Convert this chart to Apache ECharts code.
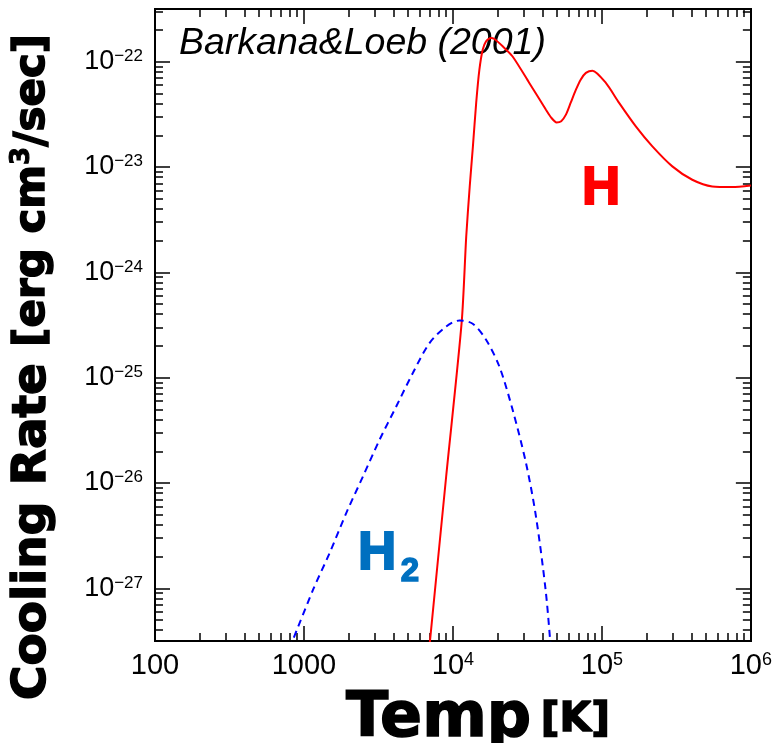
<!DOCTYPE html>
<html><head><meta charset="utf-8">
<script src="https://cdn.jsdelivr.net/npm/echarts@6/dist/echarts.min.js"></script>
<style>html,body{margin:0;padding:0;background:#fff}#c{width:775px;height:743px}</style>
</head><body><div id="c"></div><script>
// ---- data ----
const tempH = [6900, 9003, 11455, 12280, 12960, 13615, 14325, 15053, 15841, 16690, 18030, 18975, 21570, 25160, 32550, 42120, 45710, 49610, 53330, 57350, 61760, 66930, 72030, 78080, 86470, 106300, 130500, 168900, 218200, 297000, 404300, 550500, 749400, 1000000];
const rateH = [2.5e-28, 1.146e-26, 3.40e-25, 2.18e-24, 6.50e-24, 1.56e-23, 4.06e-23, 8.39e-23, 1.30e-22, 1.56e-22, 1.68e-22, 1.64e-22, 1.40e-22, 1.12e-22, 6.28e-23, 3.50e-23, 2.94e-23, 2.65e-23, 2.72e-23, 3.14e-23, 4.08e-23, 5.42e-23, 6.75e-23, 7.82e-23, 8.22e-23, 6.28e-23, 4.06e-23, 2.43e-23, 1.57e-23, 1.014e-23, 7.57e-24, 6.54e-24, 6.46e-24, 6.69e-24];
const tempH2 = [747, 1151, 1488, 1925, 2488, 3217, 4163, 5379, 6960, 9003, 11060, 13575, 16690, 20490, 25160, 30940, 36090, 42120, 46000];
const rateH2 = [2.1e-28, 9.7e-28, 2.17e-27, 5.21e-27, 1.153e-26, 2.57e-26, 5.33e-26, 1.107e-25, 2.13e-25, 3.06e-25, 3.49e-25, 3.25e-25, 2.29e-25, 1.277e-25, 4.95e-26, 1.545e-26, 4.81e-27, 9.0e-28, 2.1e-28];
const xMajorTicks = [100, 1000, 1e4, 1e5, 1e6];
const xTickLabels = ['{b|100}', '{b|1000}', '{b|10}{s|4}', '{b|10}{s|5}', '{b|10}{s|6}'];
const yMajorExp = [-27, -26, -25, -24, -23, -22];
const yTickLabels = ['{b|10}{s|−27}', '{b|10}{s|−26}', '{b|10}{s|−25}', '{b|10}{s|−24}', '{b|10}{s|−23}', '{b|10}{s|−22}'];
const xMin = 100, xMax = 1e6;
const yMinExp = -27.5, yMaxExp = -21.5;   // y axis drawn in log10 units

function minors(lo, hi, kFrom, kTo) {
  const out = [];
  for (let k = kFrom; k <= kTo; k++) for (let m = 2; m <= 9; m++) {
    const v = m * Math.pow(10, k);
    if (v > lo && v < hi) out.push(v);
  }
  return out;
}
const xMinor = minors(xMin, xMax, 2, 5);
const yMinorExp = minors(Math.pow(10, yMinExp), Math.pow(10, yMaxExp), -28, -22).map(v => Math.log10(v));

const axisLine = { show: true, onZero: false, lineStyle: { color: '#000', width: 2 } };
function xAx(pos, major, withLabels) {
  return {
    type: 'log', logBase: 10, min: xMin, max: xMax, position: pos,
    axisLine: axisLine, splitLine: { show: false },
    axisTick: { show: true, inside: true, length: major ? 15 : 8, lineStyle: { color: '#000', width: 1.5 }, customValues: major ? xMajorTicks : xMinor },
    axisLabel: withLabels ? {
      show: true, margin: 10, customValues: xMajorTicks,
      formatter: (v) => xTickLabels[xMajorTicks.findIndex(t => Math.abs(Math.log10(t) - Math.log10(v)) < 1e-6)],
      rich: {
        b: { fontFamily: 'Liberation Sans', fontSize: 29, color: '#000', lineHeight: 30 },
        s: { fontFamily: 'Liberation Sans', fontSize: 18, color: '#000', verticalAlign: 'top', lineHeight: 18 }
      }
    } : { show: false }
  };
}
function yAx(pos, major, withLabels) {
  return {
    type: 'value', min: yMinExp, max: yMaxExp, position: pos,
    axisLine: axisLine, splitLine: { show: false },
    axisTick: { show: true, inside: true, length: major ? 15 : 8, lineStyle: { color: '#000', width: 1.5 }, customValues: major ? yMajorExp : yMinorExp },
    axisLabel: withLabels ? {
      show: true, margin: 12, customValues: yMajorExp,
      formatter: (v) => yTickLabels[yMajorExp.findIndex(t => Math.abs(t - v) < 1e-6)],
      rich: {
        b: { fontFamily: 'Liberation Sans', fontSize: 27, color: '#000', lineHeight: 28 },
        s: { fontFamily: 'Liberation Sans', fontSize: 17, color: '#000', verticalAlign: 'top', lineHeight: 17 }
      }
    } : { show: false }
  };
}

const chart = echarts.init(document.getElementById('c'), null, { renderer: 'canvas' });
chart.setOption({
  animation: false,
  backgroundColor: '#fff',
  grid: { left: 155, right: 23, top: 9, bottom: 102, containLabel: false },
  xAxis: [xAx('bottom', true, true), xAx('bottom', false, false), xAx('top', true, false), xAx('top', false, false)],
  yAxis: [yAx('left', true, true), yAx('left', false, false), yAx('right', true, false), yAx('right', false, false)],
  series: [
    { type: 'line', name: 'H', xAxisIndex: 0, yAxisIndex: 0, showSymbol: false, symbol: 'none', smooth: 0.25, clip: true,
      lineStyle: { color: '#ff0000', width: 2 },
      data: tempH.map((t, i) => [t, Math.log10(rateH[i])]) },
    { type: 'line', name: 'H2', xAxisIndex: 0, yAxisIndex: 0, showSymbol: false, symbol: 'none', smooth: 0.3, clip: true,
      lineStyle: { color: '#0000ff', width: 2, type: [7, 5] },
      data: tempH2.map((t, i) => [t, Math.log10(rateH2[i])]) }
  ],
  graphic: [
    { type: 'text', left: 179, top: 25, style: { text: 'Barkana&Loeb (2001)', fontFamily: 'Liberation Sans', fontStyle: 'italic', fontSize: 37.5, fill: '#000' } },
    { type: 'text', left: 581, top: 162, style: { text: 'H', fontFamily: 'Liberation Sans', fontWeight: 'bold', fontSize: 53, fill: '#ff0000', stroke: '#ff0000', lineWidth: 2 } },
    { type: 'text', left: 357, top: 527, style: { text: 'H', fontFamily: 'Liberation Sans', fontWeight: 'bold', fontSize: 53, fill: '#0070c0', stroke: '#0070c0', lineWidth: 2 } },
    { type: 'text', left: 400, top: 555, style: { text: '2', fontFamily: 'Liberation Sans', fontWeight: 'bold', fontSize: 33, fill: '#0070c0', stroke: '#0070c0', lineWidth: 1.5 } },
    { type: 'text', x: 478, y: 720, style: {
        text: '{a|Temp}{sp| }{b|[K]}', align: 'center', verticalAlign: 'middle',
        rich: {
          a: { fontFamily: 'DejaVu Sans', fontWeight: 'bold', fontSize: 62, fill: '#000', stroke: '#000', lineWidth: 1.5 },
          sp: { fontFamily: 'DejaVu Sans', fontSize: 30 },
          b: { fontFamily: 'DejaVu Sans', fontWeight: 'bold', fontSize: 41, fill: '#000', stroke: '#000', lineWidth: 1.5 }
        } } },
    { type: 'text', x: 33, y: 367, rotation: Math.PI / 2, style: {
        text: '{a|Cooling Rate }{b|[erg cm}{c|3}{b|/sec]}', align: 'center', verticalAlign: 'middle',
        rich: {
          a: { fontFamily: 'DejaVu Sans', fontWeight: 'bold', fontSize: 47, fill: '#000', stroke: '#000', lineWidth: 1.5 },
          b: { fontFamily: 'DejaVu Sans', fontWeight: 'bold', fontSize: 42, fill: '#000', stroke: '#000', lineWidth: 1.5 },
          c: { fontFamily: 'DejaVu Sans', fontWeight: 'bold', fontSize: 26, fill: '#000', stroke: '#000', lineWidth: 1, verticalAlign: 'top' }
        } } }
  ]
});
</script></body></html>
